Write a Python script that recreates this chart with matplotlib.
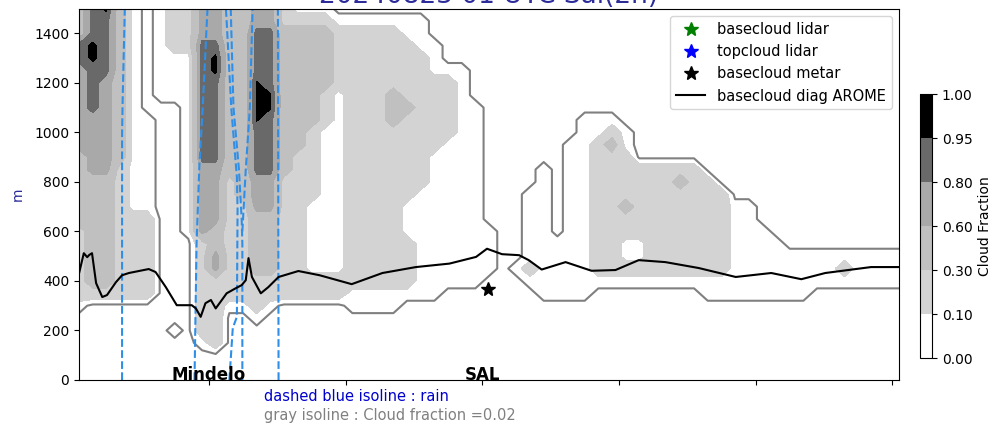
import numpy as np
import matplotlib
matplotlib.use("Agg")
import matplotlib.pyplot as plt

# cloud fraction, one entry per model column (x = 0, 2, ..., 120)
# each entry = runs "code x count" from the ground upward, 50 m per step (0..1500 m)
codes = {"0": 0.0, ".": 0.05, "1": 0.2, "2": 0.45, "3": 0.7, "4": 0.87, "6": 0.96, "5": 0.98}
cf_columns = [
    "0x6 .x1 1x6 2x6 3x7 4x2 2x3",          # 0
    "0x7 1x1 2x9 3x5 4x4 5x2 4x3",          # 2
    "0x7 1x1 2x9 3x8 4x5 5x1",              # 4
    "0x7 1x11 2x13",                        # 6
    "0x7 1x7 .x17",                         # 8
    "0x7 1x7 .x8 0x9",                      # 10
    "0x23 .x8",                             # 12
    "0x4 .x1 0x18 .x4 1x4",                 # 14
    "0x12 .x15 1x4",                        # 16
    "0x3 .x1 1x8 3x6 4x10 3x3",             # 18
    "0x3 1x6 3x2 2x2 3x5 4x7 5x2 4x1 3x3",  # 20
    "0x6 .x1 1x10 2x14",                    # 22
    "0x6 .x1 1x8 2x16",                     # 24
    "0x5 .x1 1x3 2x5 3x3 4x4 6x4 4x4 3x2",  # 26
    "0x6 .x1 1x2 2x5 3x3 4x5 6x2 4x5 3x2",  # 28
    "0x7 1x10 2x12 1x2",                    # 30
    "0x7 1x12 2x10 1x1 .x1",                # 32
    "0x7 1x2 .x6 1x6 2x8 1x1 .x1",          # 34
    "0x7 1x2 .x12 1x3 2x5 1x1 .x1",         # 36
    "0x7 1x2 .x15 1x5 .x1 0x1",             # 38
    "0x6 .x2 1x21 .x1 0x1",                 # 40
    "0x6 .x2 1x21 .x1 0x1",                 # 42
    "0x6 .x2 1x21 .x1 0x1",                 # 44
    "0x6 .x2 1x13 2x3 1x5 .x1 0x1",         # 46
    "0x7 .x1 1x4 .x3 1x7 2x1 1x5 .x2 0x1",  # 48
    "0x7 .x9 1x11 .x3 0x1",                 # 50
    "0x7 .x12 1x6 .x3 0x3",                 # 52
    "0x8 .x12 1x5 .x1 0x5",                 # 54
    "0x8 .x18 0x5",                         # 56
    "0x8 .x15 0x8",                         # 58
    "0x9 .x4 0x18",                         # 60
    "0x31",                                 # 62
    "0x9 .x1 0x21",                         # 64
    "0x8 .x1 1x1 .x6 0x15",                 # 66
    "0x7 .x11 0x13",                        # 68
    "0x7 .x5 0x19",                         # 70
    "0x7 .x13 0x11",                        # 72
    "0x7 .x15 0x9",                         # 74
    "0x8 .x1 1x11 .x2 0x9",                 # 76
    "0x8 .x1 1x10 2x1 1x1 .x1 0x9",         # 78
    "0x8 .x1 1x1 .x2 1x2 2x1 1x4 .x2 0x10", # 80
    "0x8 .x1 1x1 .x2 1x6 0x13",             # 82
    "0x8 .x1 1x9 0x13",                     # 84
    "0x8 .x1 1x9 0x13",                     # 86
    "0x8 .x1 1x7 2x1 1x1 0x13",             # 88
    "0x8 .x1 1x9 0x13",                     # 90
    "0x7 .x2 1x8 0x14",                     # 92
    "0x7 .x2 1x7 0x15",                     # 94
    "0x7 .x8 0x16",                         # 96
    "0x7 .x8 0x16",                         # 98
    "0x7 .x6 0x18",                         # 100
    "0x7 .x5 0x19",                         # 102
    "0x7 .x4 0x20",                         # 104
    "0x7 .x4 0x20",                         # 106
    "0x8 .x3 0x20",                         # 108
    "0x8 .x3 0x20",                         # 110
    "0x8 .x1 1x1 .x1 0x20",                 # 112
    "0x8 .x3 0x20",                         # 114
    "0x8 .x3 0x20",                         # 116
    "0x8 .x3 0x20",                         # 118
    "0x8 .x3 0x20",                         # 120
]
cf_levels = [0, 0.1, 0.3, 0.6, 0.8, 0.95, 1.0]
cf_colors = ["white", "lightgray", "silver", "darkgray", "dimgray", "black"]

# rain isolines (dashed blue)
rain_x = [[6.3, 6.3, 6.4, 6.7],
          [16.9, 17.2, 17.6, 18.1, 18.8],
          [22.0, 22.5, 23.1, 23.2, 23.1, 22.3, 21.5],
          [23.9, 23.9, 23.8, 23.4, 22.6, 22.2],
          [23.9, 24.1, 24.4, 25.0, 25.4],
          [29.2, 29.1]]
rain_z = [[0, 1000, 1150, 1500],
          [0, 550, 860, 1100, 1500],
          [0, 210, 255, 690, 820, 1090, 1500],
          [0, 550, 650, 850, 1100, 1500],
          [600, 700, 850, 1100, 1500],
          [0, 1500]]

# basecloud diag AROME
base_x = [0, 0.7, 1.2, 1.5, 1.9, 2.5, 3.4, 4.1, 5.4, 6.3, 7.3, 10.2, 11.2, 12.7, 14.3,
          16.5, 17.1, 17.8, 18.5, 19.3, 20.0, 20.9, 21.6, 22.9, 23.8, 24.4, 24.8, 25.3,
          26.6, 27.7, 29.2, 32.1, 35.2, 39.9, 44.4, 49.3, 54.2, 58.1, 59.7, 61.9, 64.4,
          65.8, 67.7, 71.2, 75.0, 78.5, 81.9, 85.8, 90.7, 96.1, 101.3, 105.7, 109.2,
          115.9, 120]
base_z = [430, 512, 496, 505, 512, 391, 335, 343, 395, 423, 432, 448, 436, 375, 302,
          302, 289, 255, 310, 323, 289, 323, 350, 370, 383, 403, 492, 416,
          350, 375, 416, 440, 423, 387, 432, 456, 470, 497, 530, 508, 504,
          484, 446, 476, 441, 444, 484, 476, 452, 416, 432, 407, 432,
          456, 456]

metar_x = [59.9]
metar_z = [367]

stations = ["Mindelo", "SAL"]
station_x = [19, 59]
xticks = [19, 39, 59, 79, 99, 119]


def expand(col):
    vals = []
    for run in col.split():
        c, n = run.split("x")
        vals += [codes[c]] * int(n)
    return vals


cf = np.array([expand(c) for c in cf_columns]).T
x_nodes = np.arange(0, 121, 2)
z_nodes = np.arange(0, 1501, 50)

title_col = "#2b2b9a"

fig = plt.figure(figsize=(9.94, 4.26), dpi=100)
ax = fig.add_axes([0.0795, 0.108, 0.825, 0.872])

cs = ax.contourf(x_nodes, z_nodes, cf, levels=cf_levels, colors=cf_colors)
ax.contour(x_nodes, z_nodes, cf, levels=[0.02], colors="gray", linewidths=1.5)

for xs, zs in zip(rain_x, rain_z):
    ax.plot(xs, zs, "--", color="#2f8fe8", lw=1.5)

ax.plot([], [], "*", color="green", ms=10, label="basecloud lidar")
ax.plot([], [], "*", color="blue", ms=10, label="topcloud lidar")
ax.plot(metar_x, metar_z, "*", color="black", ms=10, label="basecloud metar")
ax.plot(base_x, base_z, color="black", lw=1.5, label="basecloud diag AROME")

for name, xs in zip(stations, station_x):
    ax.text(xs, 0, name, ha="center", va="baseline", fontsize=12, fontweight="bold")

ax.set_xlim(0, 120)
ax.set_ylim(0, 1500)
ax.set_xticks(xticks)
ax.set_xticklabels([])
ax.set_yticks(range(0, 1401, 200))
ax.set_ylabel("m", color=title_col, fontsize=10, labelpad=7)
ax.set_title("20240823 01 UTC Sal(2h)", color=title_col, fontsize=19, pad=1)
ax.legend(loc="upper right", fontsize=10.5)

cax = fig.add_axes([0.9256, 0.1596, 0.0121, 0.6197])
cb = fig.colorbar(cs, cax=cax)
cb.set_label("Cloud Fraction")

fig.text(0.2656, 0.0704, "dashed blue isoline : rain", color="mediumblue", fontsize=10.5, va="center")
fig.text(0.2656, 0.0235, "gray isoline : Cloud fraction =0.02", color="gray", fontsize=10.5, va="center")

fig.savefig("out.png", dpi=100)
